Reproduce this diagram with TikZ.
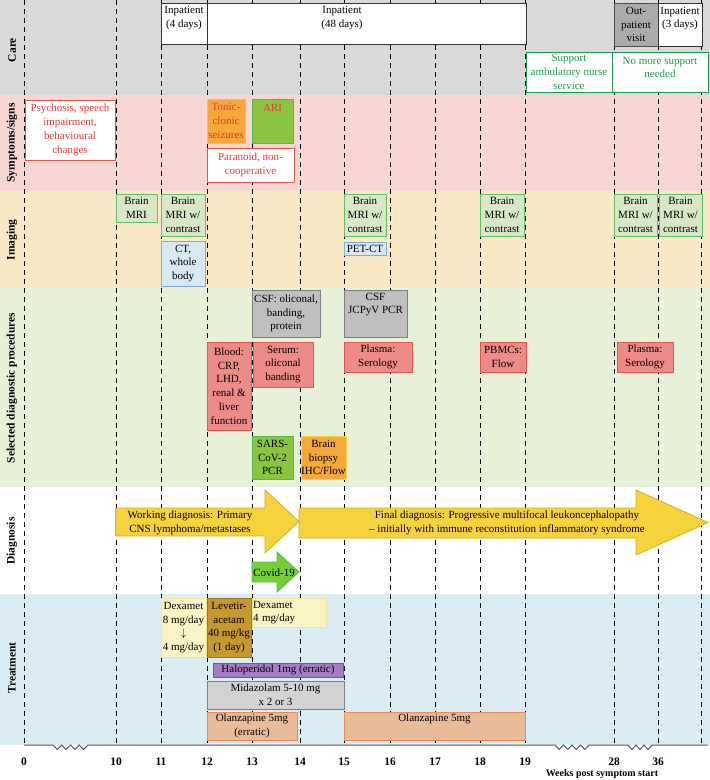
\documentclass[tikz,border=0pt]{standalone}
\usepackage{fontspec}
\setmainfont{Liberation Serif}
\usetikzlibrary{positioning}

\definecolor{cCura}{HTML}{D9D9D9}
\definecolor{cSint}{HTML}{F7D6D4}
\definecolor{cImm}{HTML}{FAE8C4}
\definecolor{cProc}{HTML}{E6F1D8}
\definecolor{cTrat}{HTML}{DAEDF5}
\definecolor{verdeT}{HTML}{1E9A50}
\definecolor{rossoT}{HTML}{E23B36}
\definecolor{arancio}{HTML}{F7A83A}
\definecolor{verdeF}{HTML}{8BC53F}
\definecolor{verdeB}{HTML}{56B849}
\definecolor{mriF}{HTML}{D7E8C6}
\definecolor{mriB}{HTML}{63BF63}
\definecolor{ctF}{HTML}{D8E8F5}
\definecolor{ctB}{HTML}{7BAEDC}
\definecolor{grigioF}{HTML}{BFBFBF}
\definecolor{grigioB}{HTML}{7F7F7F}
\definecolor{rossoF}{HTML}{EF8B87}
\definecolor{rossoB}{HTML}{E0574E}
\definecolor{gialloF}{HTML}{FAF3C3}
\definecolor{gialloB}{HTML}{EFE49C}
\definecolor{oroF}{HTML}{C6992F}
\definecolor{oroB}{HTML}{9E7620}
\definecolor{violaF}{HTML}{A67BC8}
\definecolor{violaB}{HTML}{7A4FA6}
\definecolor{midaF}{HTML}{D3D3D3}
\definecolor{pescaF}{HTML}{E9BC99}
\definecolor{pescaB}{HTML}{F08A5B}
\definecolor{diagF}{HTML}{F6D23C}
\definecolor{diagB}{HTML}{D0AE1E}
\definecolor{ambF}{HTML}{ABABAB}

\begin{document}
\begin{tikzpicture}[x=1pt,y=-1pt,
    font=\fontsize{11}{13.8}\selectfont,
    misura/.style 2 args={minimum width=#1pt,minimum height=#2pt},
    cas/.style={draw,align=center,inner sep=0pt,line width=0.9pt},
    testo/.style={align=center,inner sep=0pt},
    riga/.style={rotate=90,font=\fontsize{11.5}{13}\selectfont\bfseries},
    tratto/.style={dash pattern=on 5pt off 4pt,line width=0.9pt},
    asse/.style={draw=black!65,line width=1pt},
    freccia/.style={line width=0.8pt,draw=diagB,fill=diagF}]

  \useasboundingbox (0,0) rectangle (710,780);

  % --- le bande ---
  \fill[cCura] (0,0) rectangle (710,95);
  \fill[cSint] (0,95) rectangle (710,191);
  \fill[cImm]  (0,191) rectangle (710,288);
  \fill[cProc] (0,288) rectangle (710,487);
  \fill[cTrat] (0,594) rectangle (710,745);

  % --- linee tratteggiate delle settimane ---
  \foreach \x in {24,116,161,207,252,300,344,390,435,480,525,614,658,701}{
    \draw[tratto] (\x,0) -- (\x,745);
  }

  % --- titoli delle righe ---
  \node[riga] (rCura) at (12,50)  {Care};
  \node[riga] (rSint) at (12,143) {Symptoms/signs};
  \node[riga] (rImm)  at (12,240) {Imaging};
  \node[riga] (rProc) at (12,388) {Selected diagnostic procedures};
  \node[riga] (rDiag) at (12,541) {Diagnosis};
  \node[riga] (rTrat) at (12,668) {Treatment};

  % --- cura ---
  \node[cas,fill=white,draw=black!80,misura={46}{41}] (ric4) at (184,23.5) {};
  \node[testo] (ric4t) at (184,18) {Inpatient\\(4 days)};
  \node[cas,fill=white,draw=black!80,misura={319}{41}] (ric48) at (366.5,23.5) {};
  \node[testo] (ric48t) at (342,18) {Inpatient\\(48 days)};
  \node[cas,fill=ambF,draw=black!70,misura={44}{43}] (amb) at (636,24.5) {Out-\\patient\\visit};
  \node[cas,fill=white,draw=black!80,misura={44}{43}] (ric3) at (680,24.5) {};
  \node[testo] (ric3t) at (680,18.5) {Inpatient\\(3 days)};
  \node[cas,fill=white,draw=verdeT,text=verdeT,misura={86}{40}] (supp) at (569,72)
    {Support\\ambulatory nurse\\service};
  \node[cas,fill=white,draw=verdeT,misura={96}{40}] (nosupp) at (660,72) {};
  \node[testo,text=verdeT] (nosuppt) at (660,67.5) {No more support\\needed};

  % --- sintomi ---
  \node[cas,fill=white,draw=rossoB,text=rossoT,misura={90}{60}] (psic) at (70,130)
    {Psychosis, speech\\impairment,\\behavioural\\changes};
  \node[cas,fill=arancio,draw=arancio!80,text=rossoT,misura={38}{44}] (toni) at (226,121)
    {Tonic-\\clonic\\seizures};
  \node[cas,fill=verdeF,draw=verdeB,misura={41}{44}] (ari) at (272.5,121) {};
  \node[testo,text=rossoT] (arit) at (272.5,108) {ARI};
  \node[cas,fill=white,draw=rossoB,text=rossoT,misura={87}{34}] (para) at (250.5,165)
    {Paranoid, non-\\cooperative};

  % --- immagini ---
  \node[cas,fill=mriF,draw=mriB,misura={41}{28}] (mri10) at (136.5,208) {Brain\\MRI};
  \node[cas,fill=mriF,draw=mriB,misura={44}{42}] (mri11) at (183,215) {Brain\\MRI w/\\contrast};
  \node[cas,fill=ctF,draw=ctB,misura={44}{45}] (ct) at (183,263.5) {CT,\\whole\\body};
  \node[cas,fill=mriF,draw=mriB,misura={42}{42}] (mri15) at (365,215) {Brain\\MRI w/\\contrast};
  \node[cas,fill=ctF,draw=ctB,misura={42}{13}] (pet) at (365,248.5) {PET-CT};
  \node[cas,fill=mriF,draw=mriB,misura={44}{42}] (mri18) at (502,215) {Brain\\MRI w/\\contrast};
  \node[cas,fill=mriF,draw=mriB,misura={43}{42}] (mri28) at (635.5,215) {Brain\\MRI w/\\contrast};
  \node[cas,fill=mriF,draw=mriB,misura={43}{42}] (mri36) at (680.5,215) {Brain\\MRI w/\\contrast};

  % --- procedure diagnostiche ---
  \node[cas,fill=grigioF,draw=grigioB,misura={68}{47}] (csf1) at (286,313.5)
    {CSF: oliconal,\\banding,\\protein};
  \node[cas,fill=grigioF,draw=grigioB,misura={63}{47}] (csf2) at (375.5,313.5) {};
  \node[testo] (csf2t) at (375.5,304.5) {CSF\\JCPyV PCR};
  \node[cas,fill=rossoF,draw=rossoB,misura={44}{88}] (sang) at (229,386)
    {Blood:\\CRP,\\LHD,\\renal \&\\liver\\function};
  \node[cas,fill=rossoF,draw=rossoB,misura={60}{45}] (siero) at (283,364.5)
    {Serum:\\oliconal\\banding};
  \node[cas,fill=rossoF,draw=rossoB,misura={68}{30}] (plas15) at (378,357) {Plasma:\\Serology};
  \node[cas,fill=rossoF,draw=rossoB,misura={46}{30}] (pbmc) at (503,357) {PBMCs:\\Flow};
  \node[cas,fill=rossoF,draw=rossoB,misura={56}{30}] (plas28) at (645,357) {Plasma:\\Serology};
  \node[cas,fill=verdeF,draw=verdeB,misura={41}{43}] (sars) at (272.5,457.5)
    {SARS-\\CoV-2\\PCR};
  \node[cas,fill=arancio,draw=diagF,misura={45}{43}] (biop) at (323.5,457.5)
    {Brain\\biopsy\\IHC/Flow};

  % --- diagnosi ---
  \draw[freccia] (115.5,508) -- (265,508) -- (265,490) -- (299,521.5)
    -- (265,553) -- (265,536) -- (115.5,536) -- cycle;
  \node[testo] (dlav) at (190,522.5) {Working diagnosis: Primary\\CNS lymphoma/metastases};
  \draw[freccia] (299,508) -- (636,508) -- (636,490) -- (708,522.5)
    -- (636,555) -- (636,538) -- (299,538) -- cycle;
  \node[testo] (dfin) at (507,523)
    {Final diagnosis: Progressive multifocal leukoncephalopathy\\
     -- initially with immune reconstitution inflammatory syndrome};
  \draw[freccia,draw=verdeB,fill=verdeF!85!green] (252,562) -- (277,562) -- (277,552)
    -- (299,572) -- (277,592) -- (277,582) -- (252,582) -- cycle;
  \node[testo] (covid) at (274,573) {Covid-19};

  % --- terapia ---
  \node[cas,fill=gialloF,draw=gialloB,misura={45}{59}] (dex1) at (183.5,627.5)
    {Dexamet\\8 mg/day\\$\downarrow$\\4 mg/day};
  \node[cas,fill=oroF,draw=oroB,misura={44}{59}] (leve) at (229,627.5)
    {Levetir-\\acetam\\40 mg/kg\\(1 day)};
  \node[cas,fill=gialloF,draw=gialloB,text width=72pt,align=left,inner sep=1pt,
        minimum height=29pt] (dex2) at (289,612.5) {Dexamet\\4 mg/day};
  \node[cas,fill=violaF,draw=violaB,misura={130}{14}] (halo) at (278,670)
    {Haloperidol 1mg (erratic)};
  \node[cas,fill=midaF,draw=grigioB,misura={137}{28}] (mida) at (275.5,695)
    {Midazolam 5-10 mg\\x 2 or 3};
  \node[cas,fill=pescaF,draw=pescaB,misura={90}{28}] (olan1) at (252,726)
    {Olanzapine 5mg\\(erratic)};
  \node[cas,fill=pescaF,draw=pescaB,misura={181}{28}] (olan2) at (434.5,726) {};
  \node[testo] (olan2t) at (434.5,719) {Olanzapine 5mg};

  % --- asse del tempo ---
  \draw[asse] (24,745) -- (53,745) -- (57.4,749.5) -- (61.8,745) -- (66.1,749.5)
    -- (70.5,745) -- (74.9,749.5) -- (79.3,745) -- (83.6,749.5) -- (88,745)
    -- (555,745) -- (559.3,749.5) -- (563.5,745) -- (567.8,749.5) -- (572,745)
    -- (576.3,749.5) -- (580.5,745) -- (584.8,749.5) -- (589,745)
    -- (628,745) -- (632,749.5) -- (636,745) -- (640,749.5) -- (644,745)
    -- (648,749.5) -- (652,745) -- (708,745);
  \foreach \x/\w in {24/0,116/10,161/11,207/12,252/13,300/14,344/15,390/16,
                     435/17,480/18,525/19,614/28,658/36}{
    \node[font=\fontsize{11.5}{13}\selectfont\bfseries] (t\w) at (\x,762) {\w};
  }
  \node[font=\fontsize{10}{12}\selectfont\bfseries] (titasse) at (602,774)
    {Weeks post symptom start};

\end{tikzpicture}
\end{document}
